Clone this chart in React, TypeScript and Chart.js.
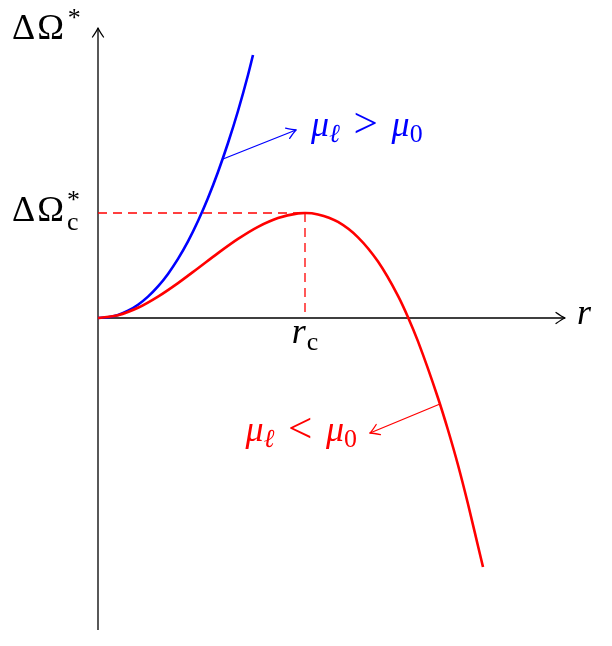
import { useEffect, useRef } from "react";
import { Chart, registerables } from "chart.js";

Chart.register(...registerables);

// Schematic data (r in arbitrary units, ΔΩ* in arbitrary units)
const blueR = [0, 10, 20, 30, 40, 50, 60, 70, 80, 90, 100, 110, 120, 130, 140, 150, 155];
const blueOmega = [0, 0.8, 3.1, 7.3, 13.3, 21.4, 31.6, 44.1, 59.1, 76.6, 97, 120, 146, 175, 207, 243, 263];

const redR = [0, 20, 40, 60, 80, 100, 120, 140, 160, 180, 200, 207, 220, 240, 260, 280, 300, 310, 320, 340, 350, 360, 370, 380, 385];
const redOmega = [0, 2.8, 10.2, 21.4, 34.9, 49.8, 64.9, 79.1, 91.2, 100, 104.6, 105, 103.6, 96.1, 80.7, 56.4, 22.1, 0.8, -23.4, -80, -112, -147, -186, -228, -249];

const rC = 207;
const omegaC = 105;

const X_MIN = -98;
const X_MAX = 514;
const Y_MIN = -328;
const Y_MAX = 318;
const X_AXIS_END = 467;
const Y_AXIS_TOP = 290;
const Y_AXIS_BOTTOM = -312;

const blueNoteFrom = [125, 159];
const blueNoteTo = [198, 188];
const redNoteFrom = [342, -86];
const redNoteTo = [272, -115];

const BLUE = "#0000ff";
const RED = "#ff0000";
const FONT = '"Liberation Serif", "DejaVu Serif", serif';
const FS = 36;

type Run = { t?: string; it?: boolean; s?: number; dy?: number; stack?: boolean; gap?: number; f?: string };

function font(size: number, it?: boolean, f?: string) {
  return `${it ? "italic " : ""}${size}px ${f ?? FONT}`;
}

function layoutRuns(ctx: CanvasRenderingContext2D, runs: Run[], base: number) {
  let cx = 0;
  let prevStart = 0;
  const out: { r: Run; x: number }[] = [];
  for (const r of runs) {
    if (r.gap) {
      cx += r.gap * base;
      continue;
    }
    ctx.font = font(base * (r.s ?? 1), r.it, r.f);
    const start = r.stack ? prevStart : cx;
    const w = ctx.measureText(r.t ?? "").width;
    out.push({ r, x: start });
    prevStart = start;
    cx = Math.max(cx, start + w);
  }
  return { items: out, width: cx };
}

function drawRuns(ctx: CanvasRenderingContext2D, x: number, y: number, runs: Run[], color: string, base = FS) {
  ctx.save();
  ctx.fillStyle = color;
  ctx.textBaseline = "alphabetic";
  ctx.textAlign = "left";
  const { items } = layoutRuns(ctx, runs, base);
  for (const { r, x: rx } of items) {
    ctx.font = font(base * (r.s ?? 1), r.it, r.f);
    ctx.fillText(r.t ?? "", x + rx, y + (r.dy ?? 0) * base);
  }
  ctx.restore();
}

function runsWidth(ctx: CanvasRenderingContext2D, runs: Run[], base = FS) {
  ctx.save();
  const w = layoutRuns(ctx, runs, base).width;
  ctx.restore();
  return w;
}

function arrowHead(ctx: CanvasRenderingContext2D, x0: number, y0: number, x1: number, y1: number) {
  const a = Math.atan2(y1 - y0, x1 - x0);
  const L = 9;
  const W = 5.5;
  const ux = Math.cos(a), uy = Math.sin(a);
  const px = -uy, py = ux;
  ctx.beginPath();
  for (const sgn of [1, -1]) {
    const bx = x1 - ux * L + px * W * sgn;
    const by = y1 - uy * L + py * W * sgn;
    const cx = x1 - ux * L * 0.35 + px * W * 0.25 * sgn;
    const cy = y1 - uy * L * 0.35 + py * W * 0.25 * sgn;
    ctx.moveTo(bx, by);
    ctx.quadraticCurveTo(cx, cy, x1, y1);
  }
  ctx.stroke();
}

const decor = {
  id: "decor",
  beforeDatasetsDraw(chart: any) {
    const ctx: CanvasRenderingContext2D = chart.ctx;
    const xs = chart.scales.x;
    const ys = chart.scales.y;
    const ox = xs.getPixelForValue(0);
    const oy = ys.getPixelForValue(0);
    ctx.save();
    ctx.strokeStyle = "#000";
    ctx.lineWidth = 1.3;
    ctx.lineCap = "butt";
    const xe = xs.getPixelForValue(X_AXIS_END);
    const yt = ys.getPixelForValue(Y_AXIS_TOP);
    const yb = ys.getPixelForValue(Y_AXIS_BOTTOM);
    ctx.beginPath();
    ctx.moveTo(ox, oy);
    ctx.lineTo(xe, oy);
    ctx.moveTo(ox, yb);
    ctx.lineTo(ox, yt);
    ctx.stroke();
    ctx.lineCap = "round";
    arrowHead(ctx, ox, oy, xe, oy);
    arrowHead(ctx, ox, yb, ox, yt);
    const pxc = xs.getPixelForValue(rC);
    const pyc = ys.getPixelForValue(omegaC);
    ctx.strokeStyle = RED;
    ctx.lineWidth = 1.3;
    ctx.lineCap = "butt";
    ctx.setLineDash([9, 6]);
    ctx.beginPath();
    ctx.moveTo(ox, pyc);
    ctx.lineTo(pxc, pyc);
    ctx.moveTo(pxc, pyc);
    ctx.lineTo(pxc, oy);
    ctx.stroke();
    ctx.restore();
  },
  afterDatasetsDraw(chart: any) {
    const ctx: CanvasRenderingContext2D = chart.ctx;
    const xs = chart.scales.x;
    const ys = chart.scales.y;
    const oy = ys.getPixelForValue(0);
    ctx.save();
    ctx.lineWidth = 1.3;
    ctx.lineCap = "round";
    const notes: [number[], number[], string][] = [
      [blueNoteFrom, blueNoteTo, BLUE],
      [redNoteFrom, redNoteTo, RED],
    ];
    for (const [f, t, c] of notes) {
      const x0 = xs.getPixelForValue(f[0]);
      const y0 = ys.getPixelForValue(f[1]);
      const x1 = xs.getPixelForValue(t[0]);
      const y1 = ys.getPixelForValue(t[1]);
      ctx.strokeStyle = c;
      ctx.beginPath();
      ctx.moveTo(x0, y0);
      ctx.lineTo(x1, y1);
      ctx.stroke();
      arrowHead(ctx, x0, y0, x1, y1);
    }
    ctx.restore();

    // labels
    const yTop = ys.getPixelForValue(Y_AXIS_TOP);
    drawRuns(ctx, 12, yTop + 11, [{ t: "Δ" }, { gap: 0.06 }, { t: "Ω" }, { gap: 0.1 }, { t: "*", s: 0.72, dy: -0.36 }], "#000");
    const pyc = ys.getPixelForValue(omegaC);
    drawRuns(
      ctx,
      12,
      pyc + 8,
      [{ t: "Δ" }, { gap: 0.06 }, { t: "Ω" }, { gap: 0.08 }, { t: "*", s: 0.72, dy: -0.36 }, { t: "c", s: 0.72, dy: 0.26, stack: true }],
      "#000"
    );
    const xe = xs.getPixelForValue(X_AXIS_END);
    drawRuns(ctx, xe + 12, oy + 6, [{ t: "r", it: true }], "#000");
    const pxc = xs.getPixelForValue(rC);
    const rcRuns: Run[] = [{ t: "r", it: true }, { gap: 0.03 }, { t: "c", s: 0.72, dy: 0.2 }];
    const rcw = runsWidth(ctx, rcRuns);
    drawRuns(ctx, pxc - rcw / 2, oy + 25, rcRuns, "#000");

    const rel = (sym: string): Run[] => [
      { t: "μ", it: true },
      { t: "ℓ", it: true, s: 0.72, dy: 0.17 },
      { gap: 0.38 },
      { t: sym, s: 1.2, dy: 0.03 },
      { gap: 0.38 },
      { t: "μ", it: true },
      { t: "0", s: 0.72, dy: 0.17 },
    ];
    const gt = rel(">");
    const lt = rel("<");
    const bx = xs.getPixelForValue(blueNoteTo[0]);
    const by = ys.getPixelForValue(blueNoteTo[1]);
    drawRuns(ctx, bx + 15, by + 6, gt, BLUE);
    const rx = xs.getPixelForValue(redNoteTo[0]);
    const ry = ys.getPixelForValue(redNoteTo[1]);
    const lw = runsWidth(ctx, lt);
    drawRuns(ctx, rx - 13 - lw, ry + 8, lt, RED);
  },
};

export default function App() {
  const ref = useRef<HTMLCanvasElement | null>(null);
  useEffect(() => {
    if (!ref.current) return;
    const chart = new Chart(ref.current, {
      type: "scatter",
      data: {
        datasets: [
          {
            label: "μℓ < μ0",
            data: redR.map((r, i) => ({ x: r, y: redOmega[i] })),
            borderColor: RED,
            borderWidth: 2.6,
            showLine: true,
            pointRadius: 0,
            cubicInterpolationMode: "monotone",
          },
          {
            label: "μℓ > μ0",
            data: blueR.map((r, i) => ({ x: r, y: blueOmega[i] })),
            borderColor: BLUE,
            borderWidth: 2.6,
            showLine: true,
            pointRadius: 0,
            cubicInterpolationMode: "monotone",
          },
        ],
      },
      options: {
        animation: false,
        responsive: false,
        devicePixelRatio: 1,
        layout: { padding: 0 },
        plugins: { legend: { display: false }, tooltip: { enabled: false } },
        scales: {
          x: { type: "linear", min: X_MIN, max: X_MAX, display: false },
          y: { type: "linear", min: Y_MIN, max: Y_MAX, display: false },
        },
      },
      plugins: [decor],
    });
    return () => chart.destroy();
  }, []);
  return (
    <div style={{ position: "fixed", left: 0, top: 0, width: 612, height: 646, background: "#fff" }}>
      <canvas ref={ref} width={612} height={646} />
    </div>
  );
}
